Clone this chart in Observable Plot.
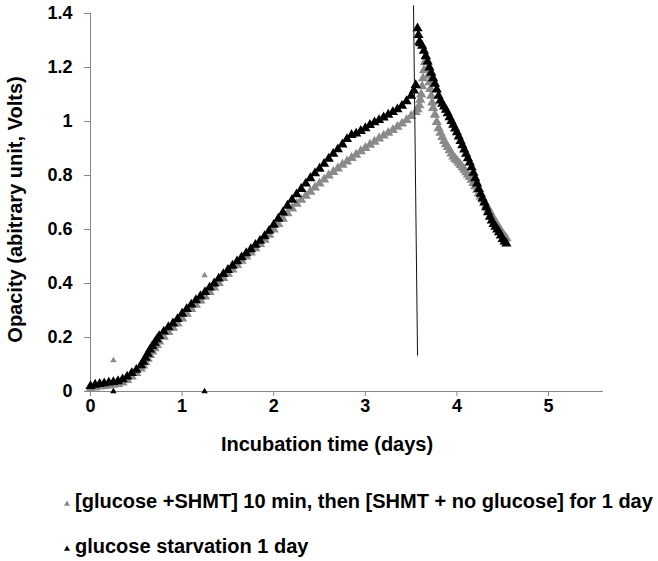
<!DOCTYPE html>
<html><head><meta charset="utf-8">
<script src="https://cdn.jsdelivr.net/npm/d3@7"></script>
<script src="https://cdn.jsdelivr.net/npm/@observablehq/plot@0.6"></script>
<style>
body{margin:0;background:#fff;}
#wrap{position:relative;width:658px;height:561px;font-family:"Liberation Sans",Arial,sans-serif;font-weight:bold;color:#000;}
.leg{position:absolute;left:75px;font-size:20px;line-height:24px;white-space:nowrap;}
.mk{position:absolute;left:63px;line-height:0;}
.mk svg{display:block;}
</style></head><body><div id="wrap"></div>
<script>
const xTicks = [0, 1, 2, 3, 4, 5];
const yTicks = [0, 0.2, 0.4, 0.6, 0.8, 1, 1.2, 1.4];
const xTitle = "Incubation time (days)";
const yTitle = "Opacity (abitrary unit, Volts)";
const seriesNames = ["[glucose +SHMT] 10 min, then [SHMT + no glucose] for 1 day", "glucose starvation 1 day"];
const seriesColors = ["#8a8a8a", "#000000"];

const grayDays = [0,0.05,0.10,0.15,0.20,0.25,0.30,0.35,0.40,0.45,0.50,0.55,0.575,0.60,0.625,0.65,0.675,0.70,0.725,0.75,0.80,0.85,0.90,0.95,1.00,1.05,1.10,1.15,1.20,1.25,1.30,1.35,1.40,1.45,1.50,1.55,1.60,1.65,1.70,1.75,1.80,1.85,1.90,1.95,2.00,2.05,2.10,2.15,2.20,2.25,2.30,2.35,2.40,2.45,2.50,2.55,2.60,2.65,2.70,2.75,2.80,2.85,2.90,2.95,3.00,3.05,3.10,3.15,3.20,3.25,3.30,3.35,3.40,3.45,3.50,3.55,3.57,3.59,3.60,3.61,3.62,3.63,3.64,3.65,3.66,3.67,3.68,3.69,3.70,3.71,3.72,3.73,3.74,3.76,3.78,3.80,3.82,3.84,3.86,3.88,3.90,3.92,3.94,3.96,3.98,4.00,4.02,4.04,4.06,4.08,4.10,4.12,4.14,4.16,4.18,4.20,4.22,4.24,4.26,4.28,4.30,4.32,4.34,4.36,4.38,4.40,4.42,4.44,4.46,4.48,4.50,4.52,4.54];
const grayOpacity = [0.010,0.015,0.018,0.020,0.022,0.025,0.028,0.033,0.042,0.055,0.068,0.085,0.096,0.108,0.121,0.135,0.148,0.160,0.172,0.185,0.203,0.220,0.236,0.252,0.270,0.288,0.305,0.321,0.337,0.352,0.368,0.385,0.402,0.420,0.436,0.452,0.468,0.484,0.500,0.515,0.530,0.546,0.562,0.580,0.600,0.620,0.640,0.660,0.678,0.695,0.710,0.725,0.740,0.755,0.770,0.785,0.800,0.813,0.826,0.840,0.852,0.865,0.877,0.890,0.902,0.914,0.925,0.937,0.948,0.958,0.968,0.980,0.992,1.005,1.020,1.035,1.045,1.060,1.080,1.100,1.130,1.160,1.190,1.220,1.240,1.220,1.195,1.170,1.145,1.120,1.095,1.070,1.050,1.025,0.998,0.975,0.958,0.942,0.928,0.916,0.905,0.893,0.881,0.870,0.862,0.855,0.847,0.839,0.830,0.821,0.812,0.803,0.794,0.784,0.772,0.760,0.747,0.734,0.722,0.711,0.700,0.689,0.678,0.666,0.653,0.640,0.628,0.617,0.606,0.595,0.585,0.575,0.567];
const grayStrayDays = [0.25, 1.245];
const grayStrayOpacity = [0.115, 0.43];

const blackDays = [0,0.05,0.10,0.15,0.20,0.25,0.30,0.35,0.40,0.45,0.50,0.55,0.575,0.60,0.625,0.65,0.675,0.70,0.725,0.75,0.80,0.85,0.90,0.95,1.00,1.05,1.10,1.15,1.20,1.25,1.30,1.35,1.40,1.45,1.50,1.55,1.60,1.65,1.70,1.75,1.80,1.85,1.90,1.95,2.00,2.05,2.10,2.15,2.20,2.25,2.30,2.35,2.40,2.45,2.50,2.55,2.60,2.65,2.70,2.75,2.80,2.85,2.90,2.95,3.00,3.05,3.10,3.15,3.20,3.25,3.30,3.35,3.40,3.45,3.50,3.53,3.55,3.57,3.58,3.59,3.60,3.62,3.64,3.66,3.68,3.70,3.72,3.74,3.76,3.78,3.80,3.82,3.84,3.86,3.88,3.90,3.92,3.94,3.96,3.98,4.00,4.02,4.04,4.06,4.08,4.10,4.12,4.14,4.16,4.18,4.20,4.22,4.24,4.26,4.28,4.30,4.32,4.34,4.36,4.38,4.40,4.42,4.44,4.46,4.48,4.50,4.52,4.54];
const blackOpacity = [0.020,0.025,0.028,0.030,0.033,0.035,0.038,0.045,0.055,0.068,0.080,0.097,0.110,0.125,0.140,0.155,0.168,0.180,0.193,0.205,0.222,0.238,0.252,0.268,0.288,0.305,0.322,0.338,0.353,0.368,0.385,0.400,0.418,0.435,0.450,0.466,0.482,0.497,0.512,0.527,0.543,0.558,0.575,0.595,0.617,0.640,0.663,0.688,0.710,0.730,0.750,0.770,0.790,0.808,0.825,0.843,0.862,0.880,0.897,0.915,0.935,0.950,0.955,0.965,0.975,0.987,0.997,1.005,1.015,1.025,1.035,1.045,1.058,1.075,1.095,1.115,1.135,1.345,1.320,1.295,1.290,1.280,1.262,1.242,1.222,1.200,1.180,1.160,1.140,1.118,1.095,1.078,1.066,1.055,1.043,1.030,1.016,1.002,0.988,0.974,0.960,0.944,0.928,0.912,0.896,0.880,0.864,0.848,0.830,0.810,0.790,0.770,0.750,0.732,0.716,0.700,0.682,0.664,0.647,0.633,0.620,0.610,0.600,0.590,0.578,0.565,0.555,0.548];
const blackStrayDays = [0.25, 1.245];
const blackStrayOpacity = [0, 0];

const markerLineDays = [3.526, 3.57];
const markerLineOpacity = [1.43, 0.133];

const axisGray = "#868686";
const pts = (xs, ys) => xs.map((d, i) => ({x: d, y: ys[i]}));
const gray = pts(grayDays, grayOpacity);
const black = pts(blackDays, blackOpacity);
const grayStray = pts(grayStrayDays, grayStrayOpacity);
const blackStray = pts(blackStrayDays, blackStrayOpacity);
const vline = [{x1: markerLineDays[0], y1: markerLineOpacity[0], x2: markerLineDays[1], y2: markerLineOpacity[1]}];

const chart = Plot.plot({
  width: 658, height: 460,
  marginLeft: 90, marginRight: 55, marginTop: 13, marginBottom: 69,
  x: {domain: [0, 5.6]},
  y: {domain: [0, 1.4]},
  style: {fontFamily: "Liberation Sans, Arial, sans-serif", fontWeight: "bold", fontSize: "18px", color: "#000", background: "#fff", overflow: "visible"},
  marks: [
    Plot.ruleY([0], {stroke: axisGray}),
    Plot.ruleX([0], {stroke: axisGray}),
    Plot.axisX({ticks: xTicks, tickFormat: d => String(d), tickSize: 5, tickPadding: 3, stroke: axisGray, fill: "#000", label: null}),
    Plot.axisY({ticks: yTicks, tickFormat: d => String(d), tickSize: 6, tickPadding: 12, stroke: axisGray, fill: "#000", label: null}),
    Plot.text([xTitle], {frameAnchor: "bottom", lineAnchor: "top", textAnchor: "middle", dy: 45, dx: -20, fontSize: 20}),
    Plot.text([yTitle], {frameAnchor: "left", textAnchor: "middle", rotate: -90, dx: -75, dy: 7, fontSize: 20}),
    Plot.dot(gray, {x: "x", y: "y", symbol: "triangle", r: 3.8, fill: seriesColors[0], stroke: "none"}),
    Plot.dot(grayStray, {x: "x", y: "y", symbol: "triangle", r: 2.4, fill: seriesColors[0], stroke: "none"}),
    Plot.dot(black, {x: "x", y: "y", symbol: "triangle", r: 3.8, fill: seriesColors[1], stroke: "none"}),
    Plot.dot(blackStray, {x: "x", y: "y", symbol: "triangle", r: 2.4, fill: seriesColors[1], stroke: "none"}),
    Plot.link(vline, {x1: "x1", y1: "y1", x2: "x2", y2: "y2", stroke: "#111", strokeWidth: 1})
  ]
});
const wrap = document.getElementById("wrap");
wrap.appendChild(chart);

const tri = d3.symbol(d3.symbolTriangle, 16)();
const legTops = [489, 534];
seriesNames.forEach((name, i) => {
  const mk = document.createElement("div");
  mk.className = "mk";
  mk.style.top = (legTops[i] + 11) + "px";
  mk.innerHTML = `<svg width="8" height="8" viewBox="-4 -4 8 8"><path d="${tri}" fill="${seriesColors[i]}"/></svg>`;
  wrap.appendChild(mk);
  const t = document.createElement("div");
  t.className = "leg";
  t.style.top = legTops[i] + "px";
  t.textContent = name;
  wrap.appendChild(t);
});
</script>
</body></html>
